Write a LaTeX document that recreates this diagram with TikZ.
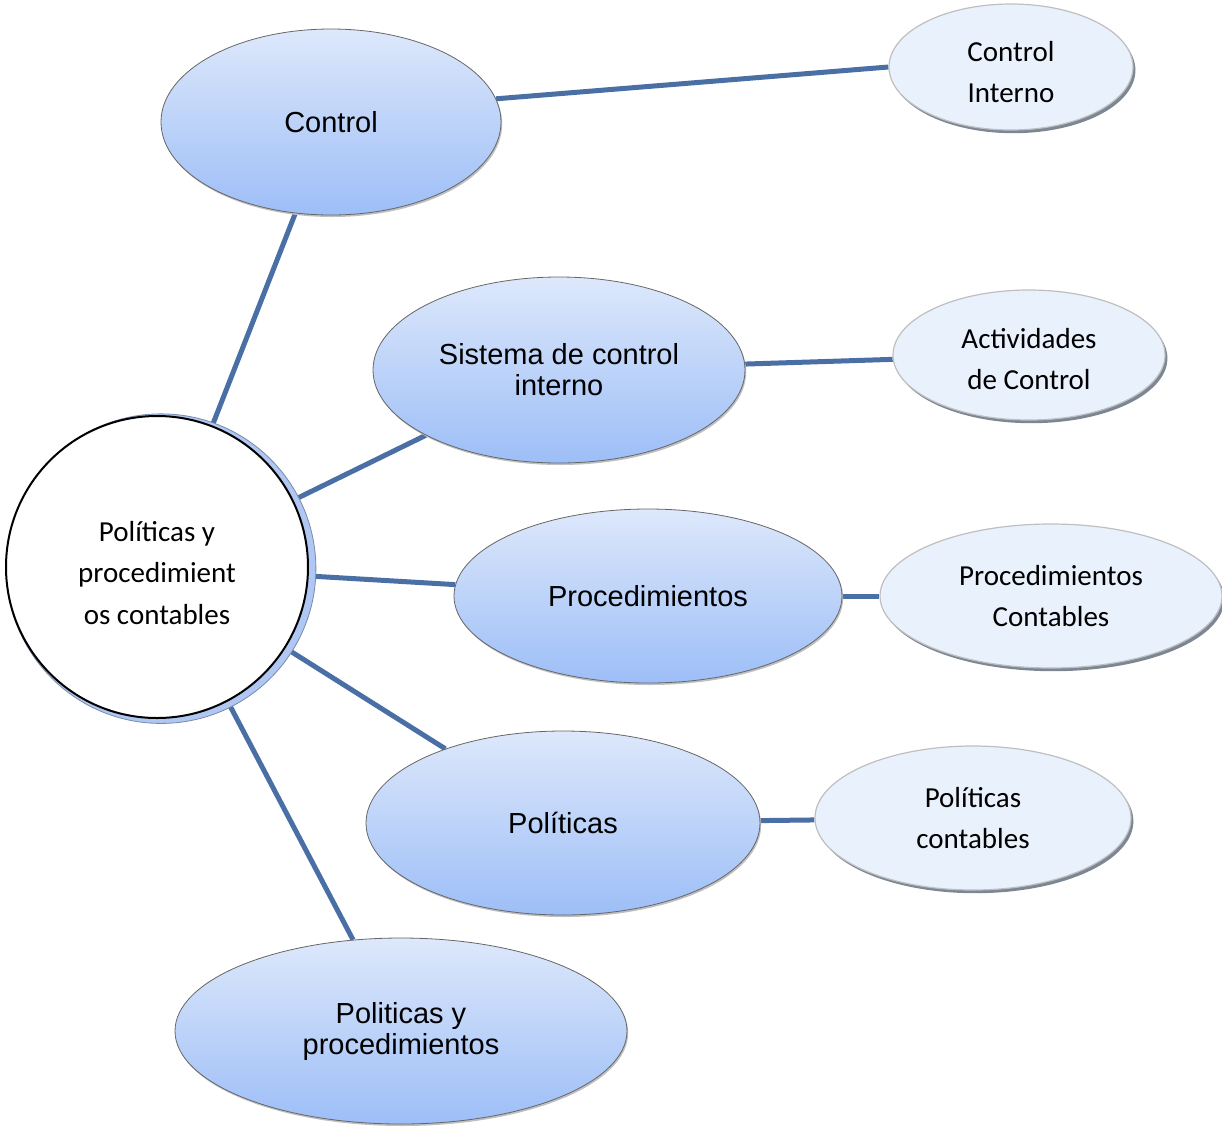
\documentclass[tikz,border=0pt]{standalone}
\usepackage{fontspec}
\setmainfont{Carlito}
\newfontfamily\arialfont{Liberation Sans}
\usetikzlibrary{shapes.geometric, shadows, backgrounds}
\definecolor{PPClink}{HTML}{4A6FA5}
\definecolor{PPCtop}{HTML}{DDE8FB}
\definecolor{PPCbot}{HTML}{9DBEF7}
\definecolor{PPCpale}{HTML}{E8F1FC}
\definecolor{PPCrim}{HTML}{7D8794}
\definecolor{PPCring}{HTML}{AFC7F2}

\begin{document}
\begin{tikzpicture}[x=0.5pt, y=-0.5pt,
    mainbox/.style={ellipse, draw=black!60, line width=0.4pt, top color=PPCtop, bottom color=PPCbot,
      inner sep=0pt, align=center, font=\arialfont\fontsize{14.5}{15.5}\selectfont,
      general shadow={fill=black!25, shadow xshift=0.6pt, shadow yshift=-1pt}},
    sidebox/.style={ellipse, draw=black!25, line width=0.6pt, fill=PPCpale,
      inner sep=0pt, align=center, font=\fontsize{14.5}{20.5}\selectfont,
      general shadow={fill=PPCrim, shadow xshift=1.2pt, shadow yshift=-1.6pt}},
    link/.style={PPClink, line width=2.5pt}]
        \useasboundingbox (0,0) rectangle (1222,1126);
        \node[circle, draw=black, line width=1pt, fill=white, minimum size=151pt, inner sep=0pt,
          align=center, font=\fontsize{14.5}{20.7}\selectfont,
          general shadow={fill=PPCring, draw=PPCring!70!black, line width=0.4pt, shadow scale=1.025,
            shadow xshift=2pt, shadow yshift=-0.8pt}]
          (pyc) at (157,567) {\rule{0pt}{16pt}Políticas y\\procedimient\\os contables};
        \node[mainbox, minimum width=170pt, minimum height=93pt] (ctl) at (331,122) {Control};
        \node[mainbox, minimum width=186pt, minimum height=93pt] (sis) at (559,370) {Sistema de control\\interno};
        \node[mainbox, minimum width=194pt, minimum height=87pt] (proc) at (648,596) {Procedimientos};
        \node[mainbox, minimum width=197pt, minimum height=92pt] (pol) at (563,823) {Políticas};
        \node[mainbox, minimum width=226pt, minimum height=93pt] (pyp) at (401,1031) {Politicas y\\procedimientos};
        \node[sidebox, minimum width=122pt, minimum height=63pt] (ci) at (1011,67) {\rule{0pt}{15pt}Control\\Interno};
        \node[sidebox, minimum width=136pt, minimum height=65pt] (act) at (1029,355) {\rule{0pt}{14pt}Actividades\\de Control};
        \node[sidebox, minimum width=171pt, minimum height=72pt] (pcon) at (1051,596) {Procedimientos\\Contables};
        \node[sidebox, minimum width=158pt, minimum height=72pt] (polc) at (973,818) {Políticas\\contables};
        \begin{scope}[on background layer]
          \draw[link] (pyc) -- (ctl);
          \draw[link] (pyc) -- (sis);
          \draw[link] (pyc) -- (proc);
          \draw[link] (pyc) -- (pol);
          \draw[link] (pyc) -- (pyp);
          \draw[link] (ctl.8) -- (ci.west);
          \draw[link] (sis) -- (act);
          \draw[link] (proc) -- (pcon);
          \draw[link] (pol) -- (polc);
        \end{scope}
      \end{tikzpicture}
\end{document}
